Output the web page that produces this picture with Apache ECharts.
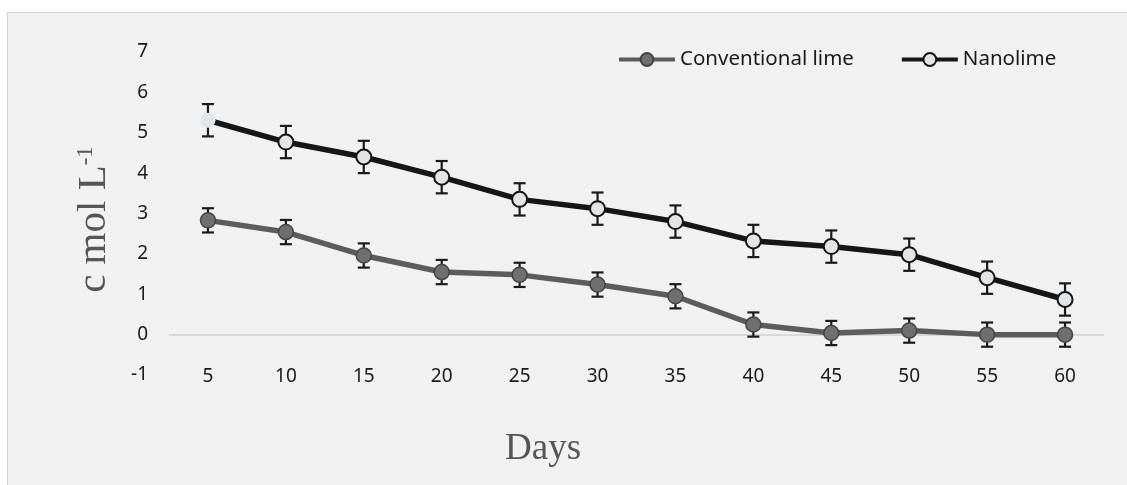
<!DOCTYPE html>
<html>
<head>
<meta charset="utf-8">
<script src="https://cdn.jsdelivr.net/npm/echarts@6/dist/echarts.min.js"></script>
<style>
  html, body { margin: 0; padding: 0; background: #fff; }
  #chart {
    position: absolute; left: 7px; top: 12px;
    width: 1119px; height: 472px;
    border: 1px solid #d0d0d0; border-right: none; border-bottom: none;
    background: #f1f1f1;
  }
</style>
</head>
<body>
<div id="chart"></div>
<script>
const days = ['5', '10', '15', '20', '25', '30', '35', '40', '45', '50', '55', '60']
const conventional = [2.83, 2.54, 1.96, 1.55, 1.48, 1.24, 0.95, 0.25, 0.04, 0.10, 0.0, 0.0]
const conventionalErr = [0.3, 0.3, 0.3, 0.3, 0.3, 0.3, 0.3, 0.3, 0.3, 0.3, 0.3, 0.3]
const nanolime = [5.31, 4.77, 4.40, 3.90, 3.35, 3.12, 2.80, 2.32, 2.18, 1.98, 1.41, 0.87]
const nanolimeErr = [0.4, 0.4, 0.4, 0.4, 0.4, 0.4, 0.4, 0.4, 0.4, 0.4, 0.4, 0.4]
const yTicks = [-1, 0, 1, 2, 3, 4, 5, 6, 7]

const labelFont = '"Noto Sans", "Open Sans", sans-serif'

// error bar as a custom series: vertical line plus two caps
function errorSeries(values, errs) {
  return {
    type: 'custom',
    z: 1,
    silent: true,
    data: values.map((v, i) => [i, v - errs[i], v + errs[i]]),
    renderItem(params, api) {
      const lo = api.coord([api.value(0), api.value(1)])
      const hi = api.coord([api.value(0), api.value(2)])
      const w = 6
      const style = { stroke: '#1a1a1a', lineWidth: 2.2 }
      return {
        type: 'group',
        children: [
          { type: 'line', shape: { x1: lo[0], y1: lo[1], x2: hi[0], y2: hi[1] }, style },
          { type: 'line', shape: { x1: lo[0] - w, y1: lo[1], x2: lo[0] + w, y2: lo[1] }, style },
          { type: 'line', shape: { x1: hi[0] - w, y1: hi[1], x2: hi[0] + w, y2: hi[1] }, style }
        ]
      }
    }
  }
}

const chart = echarts.init(document.getElementById('chart'))
chart.setOption({
  animation: false,
  grid: { left: 161, right: 23, top: 39, bottom: 110 },
  legend: {
    left: 604,
    top: 31,
    itemWidth: 56,
    itemHeight: 16,
    itemGap: 46,
    lineStyle: { width: 4 },
    textStyle: { fontFamily: labelFont, fontSize: 20.5, color: '#1a1a1a' },
    data: ['Conventional lime', 'Nanolime']
  },
  xAxis: {
    type: 'category',
    data: days,
    axisLine: { show: false },
    axisTick: { show: false },
    axisLabel: {
      margin: 2,
      verticalAlign: 'middle',
      fontFamily: labelFont,
      fontSize: 19,
      color: '#1a1a1a'
    }
  },
  yAxis: {
    type: 'value',
    min: yTicks[0],
    max: yTicks[yTicks.length - 1],
    interval: 1,
    name: 'c mol L{sup|-1}',
    nameLocation: 'middle',
    nameGap: 54,
    nameTextStyle: {
      fontFamily: '"Liberation Serif", serif',
      fontSize: 41,
      color: '#555',
      padding: [0, 12, 0, 0],
      rich: {
        sup: { fontFamily: '"Liberation Serif", serif', fontSize: 23, color: '#555', verticalAlign: 'top', padding: [0, 0, 18, 0] }
      }
    },
    axisLine: { show: false },
    axisTick: { show: false },
    axisLabel: {
      margin: 21,
      fontFamily: labelFont,
      fontSize: 19,
      color: '#1a1a1a'
    },
    splitLine: {
      show: true,
      lineStyle: {
        width: 1.5,
        color: yTicks.map(t => (t === 0 ? '#cfcfcf' : 'rgba(0,0,0,0)'))
      }
    }
  },
  graphic: [{
    type: 'text',
    left: 497,
    top: 418,
    style: {
      text: 'Days',
      font: '37px "Liberation Serif", serif',
      fill: '#555'
    }
  }],
  series: [
    errorSeries(conventional, conventionalErr),
    errorSeries(nanolime, nanolimeErr),
    {
      name: 'Conventional lime',
      type: 'line',
      z: 3,
      data: conventional,
      symbol: 'circle',
      symbolSize: 15,
      lineStyle: { color: '#5c5c5c', width: 5.5 },
      itemStyle: { color: '#6f6f6f', borderColor: '#444', borderWidth: 1.5 }
    },
    {
      name: 'Nanolime',
      type: 'line',
      z: 3,
      data: nanolime.map((v, i) => i === 0
        ? { value: v, itemStyle: { borderWidth: 0 } }
        : v),
      symbol: 'circle',
      symbolSize: 15,
      lineStyle: { color: '#161616', width: 5.5 },
      itemStyle: { color: '#e2e4e6', borderColor: '#161616', borderWidth: 2 }
    }
  ]
})
</script>
</body>
</html>
